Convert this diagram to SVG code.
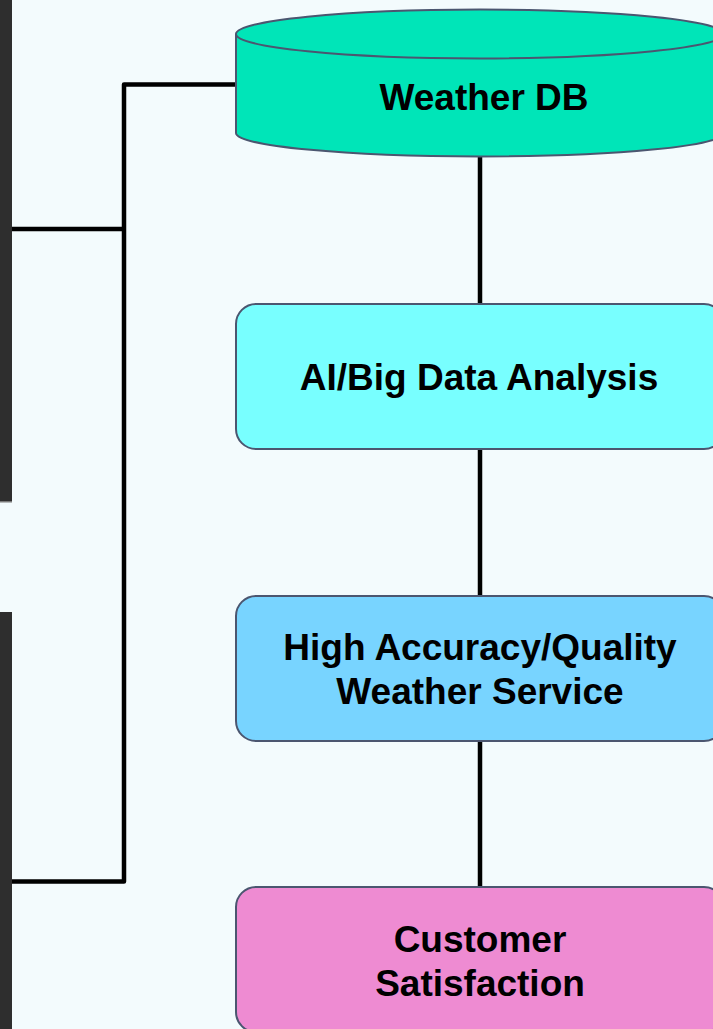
<svg xmlns="http://www.w3.org/2000/svg" width="713" height="1029" viewBox="0 0 713 1029">
<style>
.bg{fill:#f3fbfd}
.strip{fill:#2e2e2e}
.node{stroke:#4b5670;stroke-width:2}
.lbl{font-family:"Liberation Sans",Arial,sans-serif;font-weight:bold;font-size:37px;fill:#000;text-anchor:middle}
.conn{fill:none;stroke:#000;stroke-width:4.5;stroke-linejoin:round}
</style>
<rect class="bg" x="0" y="0" width="713" height="1029"/>
<g id="side-panels">
<rect class="strip" x="0" y="0" width="12" height="501"/>
<rect x="0" y="501" width="12" height="1.5" fill="#7a7a7a"/>
<rect class="strip" x="0" y="612" width="12" height="417"/>
</g>
<g id="connectors">
<path class="conn" d="M12 229 H124"/>
<path class="conn" d="M237 84.5 H124 V881.5 H12"/>
<path class="conn" d="M480 157 V304"/>
<path class="conn" d="M480 449 V596"/>
<path class="conn" d="M480 741 V887"/>
</g>
<g id="weather-db">
<path class="node" fill="#00e5b8" d="M236 34 V133 A244 23.5 0 0 0 724 133 V34"/>
<ellipse class="node" fill="#00e5b8" cx="480" cy="34" rx="244" ry="24.5"/>
<text class="lbl" x="484" y="110">Weather DB</text>
</g>
<g id="ai-analysis">
<rect class="node" fill="#78ffff" x="236" y="304" width="488" height="145" rx="20"/>
<text class="lbl" x="479" y="390">AI/Big Data Analysis</text>
</g>
<g id="weather-service">
<rect class="node" fill="#78d4ff" x="236" y="596" width="488" height="145" rx="20"/>
<text class="lbl" x="480" y="660">High Accuracy/Quality</text>
<text class="lbl" x="480" y="704">Weather Service</text>
</g>
<g id="customer-satisfaction">
<rect class="node" fill="#ee8bd2" x="236" y="887" width="488" height="145" rx="20"/>
<text class="lbl" x="480" y="952">Customer</text>
<text class="lbl" x="480" y="996">Satisfaction</text>
</g>
</svg>
